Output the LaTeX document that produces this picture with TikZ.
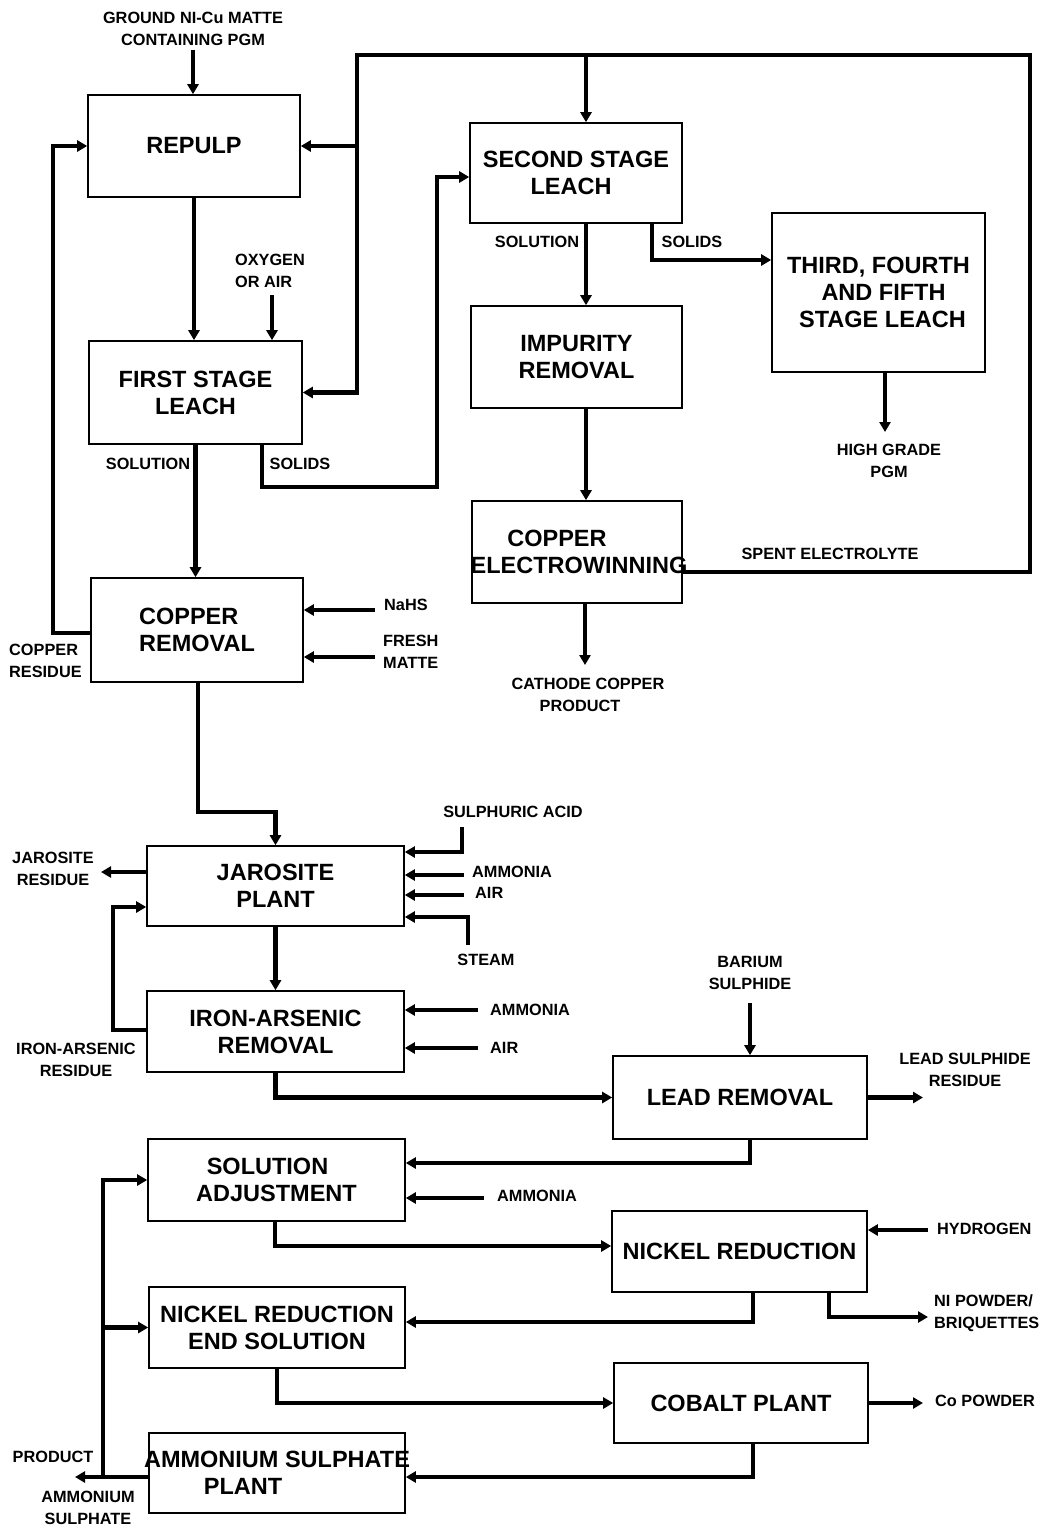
\documentclass[tikz,border=0pt]{standalone}
\usepackage{fontspec}
\setmainfont{Liberation Sans}
\usetikzlibrary{arrows.meta}
\tikzset{
  procbox/.style={draw, line width=1.6pt, inner sep=0pt, align=center,
    font=\fontsize{23.5}{27}\selectfont\bfseries},
  lbl/.style={inner sep=0pt, align=center, font=\fontsize{16.3}{22}\selectfont\bfseries},
  flow/.style={line width=4.2pt, -{Triangle[length=10pt,width=11pt]}},
  plain/.style={line width=4.2pt}
}
\newcommand{\pbox}[6]{% name, x1, x2, y1, y2, text
  \node[procbox, minimum width={(#3)-(#2)}, minimum height={(#5)-(#4)}]
    (#1) at ({((#2)+(#3))/2},{((#4)+(#5))/2}) {#6};}
\newcommand{\zw}[1]{\makebox[0pt]{#1}}
\begin{document}
\begin{tikzpicture}[x=1pt,y=-1pt]
\fill[white] (0,0) rectangle (1045,1528);
\useasboundingbox (0,0) rectangle (1045,1528);

% ---------- process boxes ----------
\pbox{repulp}{88}{300}{95}{197}{REPULP}
\pbox{first}{89}{302}{341}{444}{FIRST STAGE\\LEACH}
\pbox{second}{470}{682}{123}{223}{SECOND STAGE\\LEACH\hspace*{10pt}}
\pbox{third}{772}{985}{213}{372}{THIRD, FOURTH\\\hspace*{10pt}AND FIFTH\\\hspace*{8pt}STAGE LEACH}
\pbox{impurity}{471}{682}{306}{408}{IMPURITY\\REMOVAL}
\pbox{electro}{472}{682}{501}{603}{\zw{COPPER\hspace*{40pt}}\\\zw{\hspace*{4pt}ELECTROWINNING}}
\node[procbox, minimum width=212pt, minimum height=104pt, align=left] (copperrem) at (197,630) {COPPER\\REMOVAL};
\pbox{jarosite}{147}{404}{846}{926}{JAROSITE\\PLANT}
\pbox{ironars}{147}{404}{991}{1072}{IRON-ARSENIC\\REMOVAL}
\pbox{lead}{613}{867}{1056}{1139}{LEAD REMOVAL}
\pbox{soladj}{148}{405}{1139}{1221}{SOLUTION\hspace*{18pt}\\ADJUSTMENT}
\pbox{nired}{612}{867}{1211}{1292}{NICKEL REDUCTION}
\pbox{nres}{149}{405}{1287}{1368}{NICKEL REDUCTION\\END SOLUTION}
\pbox{cobalt}{614}{868}{1363}{1443}{COBALT PLANT}
\pbox{ammsul}{149}{405}{1433}{1513}{\zw{AMMONIUM SULPHATE}\\\zw{PLANT\hspace*{68pt}}}

% ---------- labels ----------
\node[lbl] (lground) at (193,29) {GROUND NI-Cu MATTE\\CONTAINING PGM};
\node[lbl, align=left] (loxy) at (270,271) {OXYGEN\\OR AIR};
\node[lbl] (lsol1) at (148,464) {SOLUTION};
\node[lbl] (lsolid1) at (300,464) {SOLIDS};
\node[lbl] (lsol2) at (537,242) {SOLUTION};
\node[lbl] (lsolid2) at (692,242) {SOLIDS};
\node[lbl] (lhigh) at (889,461) {HIGH GRADE\\PGM};
\node[lbl] (lspent) at (830,554) {SPENT ELECTROLYTE};
\node[lbl] (lcath) at (588,695) {CATHODE COPPER\\PRODUCT\hspace*{16pt}};
\node[lbl, anchor=west] (lnahs) at (384,605) {NaHS};
\node[lbl, anchor=west, align=left] (lfresh) at (383,652) {FRESH\\MATTE};
\node[lbl, anchor=west, align=left] (lcures) at (9,661) {COPPER\\RESIDUE};
\node[lbl] (lsulph) at (513,812) {SULPHURIC ACID};
\node[lbl, anchor=west] (lamm1) at (472,872) {AMMONIA};
\node[lbl, anchor=west] (lair1) at (475,893) {AIR};
\node[lbl] (lsteam) at (486,960) {STEAM};
\node[lbl] (ljarres) at (53,869) {JAROSITE\\RESIDUE};
\node[lbl] (lirres) at (76,1060) {IRON-ARSENIC\\RESIDUE};
\node[lbl, anchor=west] (lamm2) at (490,1010) {AMMONIA};
\node[lbl, anchor=west] (lair2) at (490,1048) {AIR};
\node[lbl] (lbarium) at (750,973) {BARIUM\\SULPHIDE};
\node[lbl] (lleadres) at (965,1070) {LEAD SULPHIDE\\RESIDUE};
\node[lbl, anchor=west] (lamm3) at (497,1196) {AMMONIA};
\node[lbl, anchor=west] (lhyd) at (937,1229) {HYDROGEN};
\node[lbl, anchor=west, align=left] (lnipow) at (934,1313) {NI POWDER/\\BRIQUETTES};
\node[lbl, anchor=west] (lcopow) at (935,1401) {Co POWDER};
\node[lbl] (lprod) at (53,1457) {PRODUCT};
\node[lbl] (lamsul) at (88,1508) {AMMONIUM\\SULPHATE};

% ---------- helper coordinates ----------
\coordinate (g1) at (193,50);
\coordinate (ox) at (272,295);
\coordinate (s1) at (262,487);
\coordinate (s2) at (437,487);
\coordinate (s2y) at (0,177);
\coordinate (tr) at (1030,55);
\coordinate (tl) at (357,55);
\coordinate (t2) at (586,55);
\coordinate (sp) at (682,572);
\coordinate (s3) at (652,260);
\coordinate (hg) at (885,432);
\coordinate (ca) at (585,665);
\coordinate (cl) at (53,633);
\coordinate (na) at (375,610);
\coordinate (fm) at (375,657);
\coordinate (cj) at (198,812);
\coordinate (jr) at (101,872);
\coordinate (su) at (462,827);
\coordinate (suy) at (0,852);
\coordinate (am1) at (464,875);
\coordinate (ai1) at (464,895);
\coordinate (st) at (468,945);
\coordinate (sty) at (0,917);
\coordinate (ir) at (113,1030);
\coordinate (ir2) at (113,907);
\coordinate (am2) at (478,1010);
\coordinate (ai2) at (478,1048);
\coordinate (ba) at (750,1003);
\coordinate (lr) at (923,1097.5);
\coordinate (ls) at (750,1163);
\coordinate (am3) at (484,1198);
\coordinate (sn) at (275,1246);
\coordinate (hy) at (928,1230);
\coordinate (nn) at (753,1322);
\coordinate (np) at (829,1317);
\coordinate (npe) at (928,1317);
\coordinate (cp) at (923,1403);
\coordinate (ca2) at (753,1477);
\coordinate (pr) at (75,1477);
\coordinate (rc) at (103,1477);

% ---------- connectors ----------
\draw[flow] (g1) -- (g1 |- repulp.north);
\draw[flow] (repulp.south) -- (repulp.south |- first.north);
\draw[flow] (ox) -- (ox |- first.north);
\draw[flow] (first.south) -- (first.south |- copperrem.north);
\draw[flow] (s1 |- first.south) -- (s1) -- (s2) -- (s2 |- s2y) -- (second.west |- s2y);
\draw[flow] (sp) -| (tr) -- (tl) |- (first.east);
\draw[flow] (tl |- repulp.east) -- (repulp.east);
\draw[flow] (t2) -- (t2 |- second.north);
\draw[flow] (t2 |- second.south) -- (t2 |- impurity.north);
\draw[flow] (s3 |- second.south) -- (s3) -- (s3 -| third.west);
\draw[flow] (hg |- third.south) -- (hg);
\draw[flow] (t2 |- impurity.south) -- (t2 |- electro.north);
\draw[flow] (ca |- electro.south) -- (ca);
\draw[flow] (cl -| copperrem.west) -- (cl) |- (repulp.west);
\draw[flow] (na) -- (na -| copperrem.east);
\draw[flow] (fm) -- (fm -| copperrem.east);
\draw[flow] (cj |- copperrem.south) -- (cj) -| (jarosite.north);
\draw[flow] (jr -| jarosite.west) -- (jr);
\draw[flow] (su) |- (jarosite.east |- suy);
\draw[flow] (am1) -- (am1 -| jarosite.east);
\draw[flow] (ai1) -- (ai1 -| jarosite.east);
\draw[flow] (st) |- (jarosite.east |- sty);
\draw[flow] (jarosite.south) -- (ironars.north);
\draw[flow] (ir -| ironars.west) -- (ir) -- (ir2) -- (ir2 -| jarosite.west);
\draw[flow] (am2) -- (am2 -| ironars.east);
\draw[flow] (ai2) -- (ai2 -| ironars.east);
\draw[flow] (ironars.south) |- (lead.west);
\draw[flow] (ba) -- (ba |- lead.north);
\draw[flow] (lead.east) -- (lr);
\draw[flow] (ls |- lead.south) -- (ls) -- (ls -| soladj.east);
\draw[flow] (am3) -- (am3 -| soladj.east);
\draw[flow] (sn |- soladj.south) -- (sn) -- (sn -| nired.west);
\draw[flow] (hy) -- (hy -| nired.east);
\draw[flow] (nn |- nired.south) -- (nn) -- (nn -| nres.east);
\draw[flow] (np |- nired.south) -- (np) -- (npe);
\draw[flow] (nres.south) |- (cobalt.west);
\draw[flow] (cobalt.east) -- (cp);
\draw[flow] (ca2 |- cobalt.south) -- (ca2) -- (ca2 -| ammsul.east);
\draw[flow] (pr -| ammsul.west) -- (pr);
\draw[flow] (rc) |- (soladj.west);
\draw[flow] (rc |- nres.west) -- (nres.west);
\end{tikzpicture}
\end{document}
